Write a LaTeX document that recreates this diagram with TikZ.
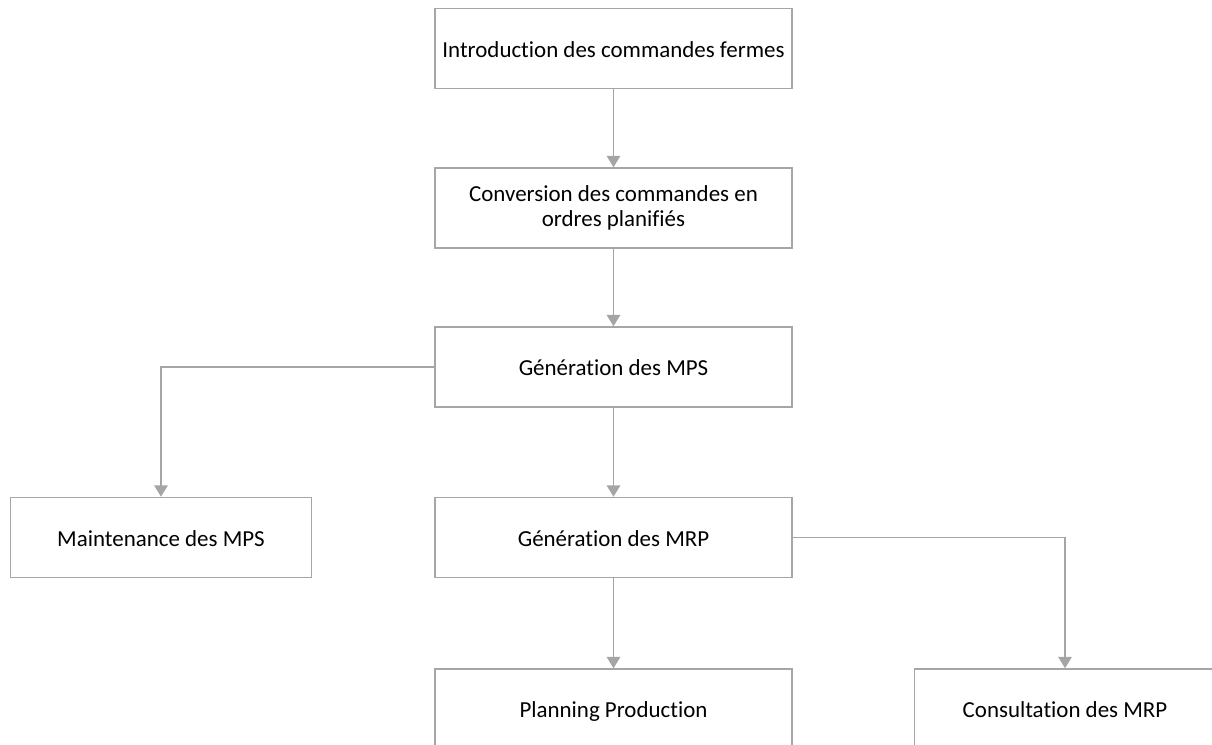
\documentclass[tikz,border=0pt]{standalone}
\usepackage{fontspec}
\setmainfont{Carlito}[Ligatures={NoCommon}]
\usetikzlibrary{arrows.meta}
\definecolor{boxline}{HTML}{A6A6A6}
\definecolor{linkline}{HTML}{A5A5A5}
\tikzset{
  stepbox/.style={draw=boxline, line width=1.1pt, fill=white, align=center,
    minimum width=267.75pt, minimum height=60pt, inner sep=0pt,
    font=\fontsize{17.2}{19}\selectfont, text=black},
  oneline/.style={stepbox, text height=15pt, text depth=2.2pt},
  sidebox/.style={oneline, minimum width=226pt},
  link/.style={draw=linkline, line width=1.4pt,
    -{Triangle[width=10pt,length=8.5pt]}}
}
\begin{document}
\begin{tikzpicture}[x=0.75pt, y=-0.75pt]
  \useasboundingbox (0,0) rectangle (1212,745);
  \clip (0,0) rectangle (1212,745);

  % process chain
  \node[oneline] (intro) at (613.5,48.5) {Introduction des commandes fermes};
  \node[stepbox] (conv)  at (613.5,208)  {Conversion des commandes en\\ordres planifiés};
  \node[oneline] (mps)   at (613.5,367)  {Génération des MPS};
  \node[sidebox] (maint) at (161,537.5)  {Maintenance des MPS};
  \node[oneline] (mrp)   at (613.5,537.5){Génération des MRP};
  \node[oneline] (plan)  at (613.5,709)  {Planning Production};
  \node[sidebox] (cons)  at (1065,709)   {Consultation des MRP};

  % connectors
  \draw[link] (intro.south) -- (conv.north);
  \draw[link] (conv.south) -- (mps.north);
  \draw[link] (mps.west) -| (maint.north);
  \draw[link] (mps.south) -- (mrp.north);
  \draw[link] (mrp.east) -| (cons.north);
  \draw[link] (mrp.south) -- (plan.north);
\end{tikzpicture}
\end{document}
